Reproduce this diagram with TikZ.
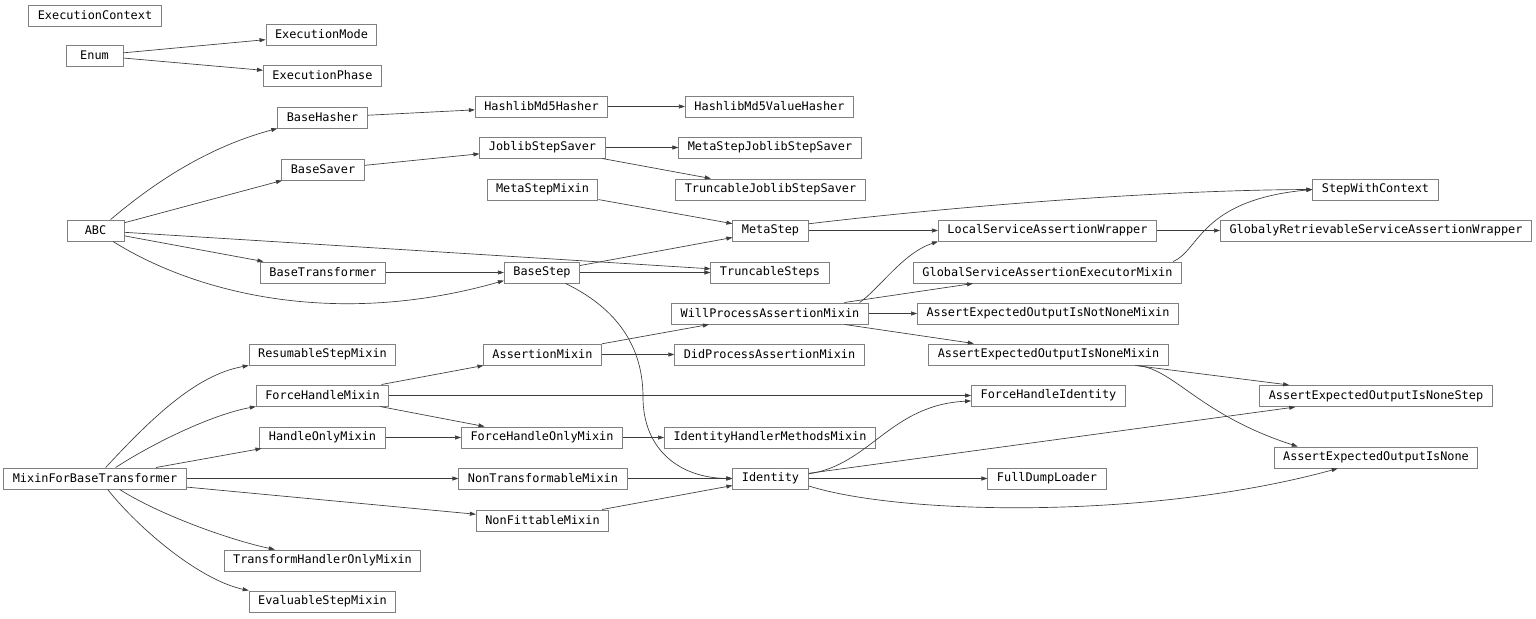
\documentclass[tikz,border=0pt]{standalone}
\usepackage{fontspec}
\setmonofont{DejaVu Sans Mono}
\usetikzlibrary{arrows.meta}
\definecolor{bg}{HTML}{FFFFFF}
\definecolor{boxline}{HTML}{808080}
\definecolor{edgeline}{HTML}{3C3C3C}

\begin{document}
\begin{tikzpicture}[x=0.75pt,y=-0.75pt,
  cls/.style={draw=boxline,line width=0.75pt,rectangle,font=\ttfamily\fontsize{8.9pt}{10pt}\selectfont,
    inner xsep=6.75pt,inner ysep=0pt,minimum height=15.75pt,minimum width=42.75pt},
  inh/.style={-{Triangle[length=4.5pt,width=3pt]},line width=0.5pt,draw=edgeline}]
  \fill[bg] (0,0) rectangle (1536,618);
  \useasboundingbox (0,0) rectangle (1536,618);

  % ===== column 1 =====
  \node[cls] (execctx) at (95,15.5) {ExecutionContext};
  \node[cls] (enum) at (94.5,55.5) {Enum};
  \node[cls] (abc) at (95.5,230.5) {ABC};
  \node[cls] (mixinbt) at (95,478.5) {MixinForBaseTransformer};

  % ===== column 2 =====
  \node[cls] (execmode) at (321.5,34.5) {ExecutionMode};
  \node[cls] (execphase) at (322.5,75.5) {ExecutionPhase};
  \node[cls] (basehasher) at (322.5,117.5) {BaseHasher};
  \node[cls] (basesaver) at (323,169.5) {BaseSaver};
  \node[cls] (basetransformer) at (323,272.5) {BaseTransformer};
  \node[cls] (resumable) at (322.5,354.5) {ResumableStepMixin};
  \node[cls] (forcehandle) at (322.5,395.5) {ForceHandleMixin};
  \node[cls] (handleonly) at (322.5,437.5) {HandleOnlyMixin};
  \node[cls] (transformhandler) at (322.5,560.5) {TransformHandlerOnlyMixin};
  \node[cls] (evaluable) at (322.5,601.5) {EvaluableStepMixin};

  % ===== column 3 =====
  \node[cls] (md5hasher) at (541.5,106.5) {HashlibMd5Hasher};
  \node[cls] (joblibsaver) at (542.5,147.5) {JoblibStepSaver};
  \node[cls] (metastepmixin) at (542.5,189.5) {MetaStepMixin};
  \node[cls] (basestep) at (542,272.5) {BaseStep};
  \node[cls] (assertionmixin) at (542.5,354.5) {AssertionMixin};
  \node[cls] (forcehandleonly) at (542,437.5) {ForceHandleOnlyMixin};
  \node[cls] (nontransformable) at (543,478.5) {NonTransformableMixin};
  \node[cls] (nonfittable) at (542.5,520.5) {NonFittableMixin};

  % ===== column 4 =====
  \node[cls] (md5valuehasher) at (769.5,106.5) {HashlibMd5ValueHasher};
  \node[cls] (metajoblibsaver) at (770,147.5) {MetaStepJoblibStepSaver};
  \node[cls] (truncjoblibsaver) at (770.5,189.5) {TruncableJoblibStepSaver};
  \node[cls] (metastep) at (770.5,230.5) {MetaStep};
  \node[cls] (truncsteps) at (770,272.5) {TruncableSteps};
  \node[cls] (willprocess) at (770,313.5) {WillProcessAssertionMixin};
  \node[cls] (didprocess) at (769.5,354.5) {DidProcessAssertionMixin};
  \node[cls] (identityhandler) at (770,437.5) {IdentityHandlerMethodsMixin};
  \node[cls] (identity) at (770.5,478.5) {Identity};

  % ===== column 5 =====
  \node[cls] (localwrapper) at (1047.5,230.5) {LocalServiceAssertionWrapper};
  \node[cls] (globalexec) at (1047.5,272.5) {GlobalServiceAssertionExecutorMixin};
  \node[cls] (notnonemixin) at (1048,313.5) {AssertExpectedOutputIsNotNoneMixin};
  \node[cls] (nonemixin) at (1048.5,354.5) {AssertExpectedOutputIsNoneMixin};
  \node[cls] (forceidentity) at (1048.5,395.5) {ForceHandleIdentity};
  \node[cls] (fulldump) at (1047,478.5) {FullDumpLoader};

  % ===== column 6 =====
  \node[cls] (stepwithctx) at (1375.5,189.5) {StepWithContext};
  \node[cls] (globalwrapper) at (1376,230.5) {GlobalyRetrievableServiceAssertionWrapper};
  \node[cls] (nonestep) at (1376,396) {AssertExpectedOutputIsNoneStep};
  \node[cls] (assertnone) at (1376,457.5) {AssertExpectedOutputIsNone};

  % ===== straight edges =====
  \draw[inh] (enum) -- (execmode);
  \draw[inh] (enum) -- (execphase);
  \draw[inh] (abc) -- (basesaver);
  \draw[inh] (abc) -- (truncsteps);
  \draw[inh] (abc) -- (basetransformer);
  \draw[inh] (basehasher) -- (md5hasher);
  \draw[inh] (md5hasher) -- (md5valuehasher);
  \draw[inh] (basesaver) -- (joblibsaver);
  \draw[inh] (joblibsaver) -- (metajoblibsaver);
  \draw[inh] (joblibsaver) -- (truncjoblibsaver);
  \draw[inh] (metastepmixin) -- (metastep);
  \draw[inh] (basetransformer) -- (basestep);
  \draw[inh] (basestep) -- (metastep);
  \draw[inh] (basestep) -- (truncsteps);
  \draw[inh] (metastep) -- (localwrapper);
  \draw[inh] (localwrapper) -- (globalwrapper);
  \draw[inh] (willprocess) -- (globalexec);
  \draw[inh] (willprocess) -- (notnonemixin);
  \draw[inh] (willprocess) -- (nonemixin);
  \draw[inh] (assertionmixin) -- (willprocess);
  \draw[inh] (assertionmixin) -- (didprocess);
  \draw[inh] (nonemixin) -- (nonestep);
  \draw[inh] (mixinbt) -- (handleonly);
  \draw[inh] (mixinbt) -- (nontransformable);
  \draw[inh] (mixinbt) -- (nonfittable);
  \draw[inh] (forcehandle) -- (assertionmixin);
  \draw[inh] (forcehandle) -- (forceidentity);
  \draw[inh] (forcehandle) -- (forcehandleonly);
  \draw[inh] (handleonly) -- (forcehandleonly);
  \draw[inh] (forcehandleonly) -- (identityhandler);
  \draw[inh] (nontransformable) -- (identity);
  \draw[inh] (nonfittable) -- (identity);
  \draw[inh] (identity) -- (nonestep);
  \draw[inh] (identity) -- (fulldump);

  % ===== curved edges =====
  \draw[inh] (abc.36) .. controls (155,182) and (208,147) .. (basehasher.south west);
  \draw[inh] (abc.-32) .. controls (190,290) and (330,330) .. (basestep.192);
  \draw[inh] (basestep.-25) .. controls (610,305) and (643,340) .. (643,397)
    .. controls (643,450) and (680,478) .. (identity.west);
  \draw[inh] (metastep.10) .. controls (958,206) and (1163,190) .. (stepwithctx.west);
  \draw[inh] (willprocess.7.5) .. controls (880,288) and (903,253) .. (localwrapper.south west);
  \draw[inh] (globalexec.5.3) .. controls (1200,250) and (1200,200) .. (stepwithctx.west);
  \draw[inh] (nonemixin.-7) .. controls (1175,370) and (1200,415) .. (assertnone.172);
  \draw[inh] (mixinbt.46) .. controls (150,420) and (195,375) .. (resumable.south west);
  \draw[inh] (mixinbt.28) .. controls (150,445) and (210,415) .. (forcehandle.south west);
  \draw[inh] (mixinbt.-24) .. controls (160,515) and (230,540) .. (transformhandler.167);
  \draw[inh] (mixinbt.-41) .. controls (140,530) and (200,580) .. (evaluable.north west);
  \draw[inh] (identity.7) .. controls (870,465) and (890,405) .. (forceidentity.184);
  \draw[inh] (identity.-11) .. controls (900,515) and (1150,520) .. (assertnone.196);
\end{tikzpicture}
\end{document}
